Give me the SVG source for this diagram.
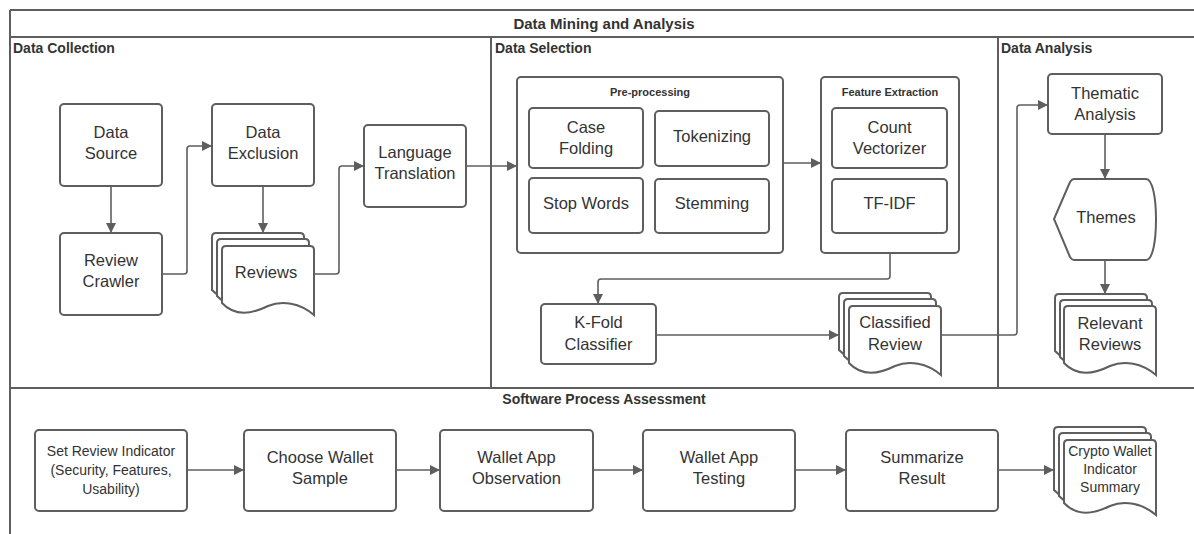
<svg xmlns="http://www.w3.org/2000/svg" width="1194" height="534" viewBox="0 0 1194 534">
<style>
.frame{fill:none;stroke:#5e5e5e;stroke-width:2}
.box{fill:#fff;stroke:#5e5e5e;stroke-width:2}
.con{fill:none;stroke:#5e5e5e;stroke-width:1.6}
.t{font-family:"Liberation Sans",Arial,sans-serif;font-size:16.5px;fill:#333;text-anchor:middle}
.s{font-family:"Liberation Sans",Arial,sans-serif;font-size:14px;fill:#333;text-anchor:middle}
.h{font-family:"Liberation Sans",Arial,sans-serif;font-size:14px;font-weight:bold;fill:#333}
.hc{font-family:"Liberation Sans",Arial,sans-serif;font-size:11px;font-weight:bold;fill:#333;text-anchor:middle}
</style>
<defs>
<marker id="arr" markerUnits="userSpaceOnUse" markerWidth="10" markerHeight="10" refX="10" refY="5" orient="auto">
<path d="M0,0 L10,5 L0,10 z" fill="#5e5e5e"/>
</marker>
<path id="page" d="M0,4 Q0,0 4,0 H88 Q92,0 92,4 V69 C78,57 60,54 46,60 C32,67 14,72 0,57 Z"/>
<path id="page2" d="M0,4 Q0,0 4,0 H88 Q92,0 92,4 V75 C78,63 60,60 46,66 C32,73 14,78 0,63 Z"/>
</defs>

<g id="frame">
<line class="frame" x1="10" y1="10" x2="1194" y2="10"/>
<line class="frame" x1="10" y1="37" x2="1194" y2="37"/>
<line class="frame" x1="10" y1="10" x2="10" y2="534"/>
<line class="frame" x1="10" y1="388" x2="1194" y2="388"/>
<line class="frame" x1="491" y1="37" x2="491" y2="388"/>
<line class="frame" x1="998" y1="37" x2="998" y2="388"/>
<text x="604" y="29" style="font-family:'Liberation Sans',Arial,sans-serif;font-size:15px;font-weight:bold;fill:#333;text-anchor:middle">Data Mining and Analysis</text>
<text class="h" x="13" y="53">Data Collection</text>
<text class="h" x="495" y="53">Data Selection</text>
<text class="h" x="1001" y="53">Data Analysis</text>
<text class="h" x="604" y="404" text-anchor="middle">Software Process Assessment</text>
</g>

<g id="connectors">
<path class="con" d="M111,186 V233" marker-end="url(#arr)"/>
<path class="con" d="M162,274 H184 Q187,274 187,271 V149 Q187,146 190,146 H212" marker-end="url(#arr)"/>
<path class="con" d="M263,186 V233" marker-end="url(#arr)"/>
<path class="con" d="M314,274 H336 Q339,274 339,271 V169 Q339,166 342,166 H364" marker-end="url(#arr)"/>
<path class="con" d="M466,166 H517" marker-end="url(#arr)"/>
<path class="con" d="M783,163 H821" marker-end="url(#arr)"/>
<path class="con" d="M890,253 V276 Q890,279 887,279 H601 Q598,279 598,282 V304" marker-end="url(#arr)"/>
<path class="con" d="M656,335 H839" marker-end="url(#arr)"/>
<path class="con" d="M941,335 H1014 Q1017,335 1017,332 V108 Q1017,105 1020,105 H1048" marker-end="url(#arr)"/>
<path class="con" d="M1105,134 V179" marker-end="url(#arr)"/>
<path class="con" d="M1105,260 V294" marker-end="url(#arr)"/>
<path class="con" d="M187,470 H244" marker-end="url(#arr)"/>
<path class="con" d="M396,470 H440" marker-end="url(#arr)"/>
<path class="con" d="M593,470 H643" marker-end="url(#arr)"/>
<path class="con" d="M795,470 H846" marker-end="url(#arr)"/>
<path class="con" d="M998,470 H1054" marker-end="url(#arr)"/>
</g>

<g id="data-source"><rect class="box" x="60" y="104" width="102" height="82" rx="4"/>
<text class="t" x="111" y="138">Data</text><text class="t" x="111" y="159">Source</text></g>
<g id="review-crawler"><rect class="box" x="60" y="233" width="102" height="82" rx="4"/>
<text class="t" x="111" y="266">Review</text><text class="t" x="111" y="287">Crawler</text></g>
<g id="data-exclusion"><rect class="box" x="212" y="104" width="102" height="82" rx="4"/>
<text class="t" x="263" y="138">Data</text><text class="t" x="263" y="159">Exclusion</text></g>
<g id="reviews">
<use href="#page" class="box" x="212" y="233"/>
<use href="#page" class="box" x="217" y="239"/>
<use href="#page" class="box" x="222" y="246"/>
<text class="t" x="266" y="278">Reviews</text></g>
<g id="language-translation"><rect class="box" x="364" y="125" width="102" height="82" rx="4"/>
<text class="t" x="415" y="157.5">Language</text><text class="t" x="415" y="179">Translation</text></g>

<g id="pre-processing"><rect class="box" x="517" y="77" width="266" height="176" rx="4"/>
<text class="hc" x="650" y="96">Pre-processing</text></g>
<g id="case-folding"><rect class="box" x="529" y="108" width="114" height="60" rx="4"/>
<text class="t" x="586" y="132.5">Case</text><text class="t" x="586" y="154">Folding</text></g>
<g id="tokenizing"><rect class="box" x="655" y="111" width="114" height="55" rx="4"/>
<text class="t" x="712" y="142">Tokenizing</text></g>
<g id="stop-words"><rect class="box" x="529" y="178" width="114" height="55" rx="4"/>
<text class="t" x="586" y="208.5">Stop Words</text></g>
<g id="stemming"><rect class="box" x="655" y="179" width="114" height="54" rx="4"/>
<text class="t" x="712" y="208.5">Stemming</text></g>

<g id="feature-extraction"><rect class="box" x="821" y="77" width="138" height="176" rx="4"/>
<text class="hc" x="890" y="96">Feature Extraction</text></g>
<g id="count-vectorizer"><rect class="box" x="832" y="108" width="115" height="60" rx="4"/>
<text class="t" x="889.5" y="132.5">Count</text><text class="t" x="889.5" y="154">Vectorizer</text></g>
<g id="tf-idf"><rect class="box" x="832" y="179" width="115" height="54" rx="4"/>
<text class="t" x="889.5" y="209">TF-IDF</text></g>

<g id="k-fold-classifier"><rect class="box" x="541" y="304" width="115" height="60" rx="4"/>
<text class="t" x="598.5" y="328">K-Fold</text><text class="t" x="598.5" y="350">Classifier</text></g>
<g id="classified-review">
<use href="#page" class="box" x="839" y="293"/>
<use href="#page" class="box" x="844" y="299"/>
<use href="#page" class="box" x="849" y="306"/>
<text class="t" x="895" y="328">Classified</text><text class="t" x="895" y="350">Review</text></g>

<g id="thematic-analysis"><rect class="box" x="1048" y="74" width="114" height="60" rx="4"/>
<text class="t" x="1105" y="99">Thematic</text><text class="t" x="1105" y="120">Analysis</text></g>
<g id="themes"><path class="box" d="M1074,179 H1146 C1153,179 1156,200 1156,219 C1156,240 1153,260 1146,260 H1074 Q1072,260 1070,257 L1054,219 L1070,182 Q1072,179 1074,179 Z"/>
<text class="t" x="1106" y="222.5">Themes</text></g>
<g id="relevant-reviews">
<use href="#page" class="box" x="1055" y="294"/>
<use href="#page" class="box" x="1060" y="300"/>
<use href="#page" class="box" x="1064" y="306"/>
<text class="t" x="1110" y="328.5">Relevant</text><text class="t" x="1110" y="349.5">Reviews</text></g>

<g id="set-review-indicator"><rect class="box" x="35" y="430" width="152" height="81" rx="4"/>
<text class="s" x="111" y="455.5">Set Review Indicator</text><text class="s" x="111" y="475">(Security, Features,</text><text class="s" x="111" y="493.5">Usability)</text></g>
<g id="choose-wallet-sample"><rect class="box" x="244" y="430" width="152" height="81" rx="4"/>
<text class="t" x="320" y="462.5">Choose Wallet</text><text class="t" x="320" y="484">Sample</text></g>
<g id="wallet-app-observation"><rect class="box" x="440" y="430" width="153" height="81" rx="4"/>
<text class="t" x="516.5" y="462.5">Wallet App</text><text class="t" x="516.5" y="484">Observation</text></g>
<g id="wallet-app-testing"><rect class="box" x="643" y="430" width="152" height="81" rx="4"/>
<text class="t" x="719" y="462.5">Wallet App</text><text class="t" x="719" y="484">Testing</text></g>
<g id="summarize-result"><rect class="box" x="846" y="430" width="152" height="81" rx="4"/>
<text class="t" x="922" y="462.5">Summarize</text><text class="t" x="922" y="484">Result</text></g>
<g id="crypto-wallet-indicator-summary">
<use href="#page2" class="box" x="1054" y="427"/>
<use href="#page2" class="box" x="1059" y="433"/>
<use href="#page2" class="box" x="1064" y="440"/>
<text class="s" x="1110" y="456">Crypto Wallet</text><text class="s" x="1110" y="474">Indicator</text><text class="s" x="1110" y="492">Summary</text></g>
</svg>
